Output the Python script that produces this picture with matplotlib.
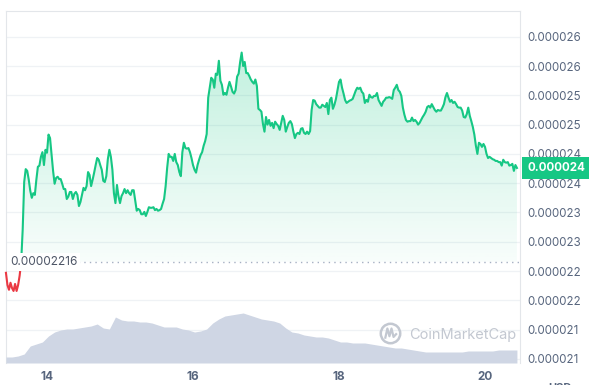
import numpy as np
import matplotlib
matplotlib.use('Agg')
import matplotlib.pyplot as plt
import matplotlib.transforms as mtransforms
from matplotlib.patches import Rectangle
from matplotlib.colors import to_rgb

plt.rcParams['font.family'] = ['Inter', 'DejaVu Sans']

# price every 30 minutes, in units of 1e-8 USD, starting 13th 10:30
start_day = 13 + 10.5 / 24
price_e8 = [
    2197, 2176, 2168, 2180, 2171, 2166, 2178, 2166, 2176, 2192,
    2215, 2270, 2352, 2374, 2371, 2356, 2337, 2325, 2333, 2330,
    2356, 2378, 2380, 2395, 2403, 2381, 2407, 2402, 2433, 2427,
    2398, 2371, 2349, 2359, 2361, 2357, 2357, 2349, 2340, 2340,
    2323, 2327, 2335, 2335, 2323, 2332, 2335, 2330, 2311, 2318,
    2330, 2342, 2338, 2345, 2369, 2364, 2345, 2356, 2368, 2381,
    2393, 2390, 2381, 2373, 2354, 2352, 2362, 2391, 2407, 2395,
    2373, 2333, 2316, 2347, 2328, 2316, 2328, 2333, 2340, 2333,
    2338, 2333, 2330, 2338, 2338, 2320, 2303, 2306, 2304, 2297,
    2297, 2301, 2294, 2301, 2309, 2308, 2308, 2309, 2304, 2306,
    2303, 2304, 2306, 2315, 2323, 2345, 2376, 2400, 2395, 2395,
    2388, 2400, 2386, 2381, 2369, 2362, 2403, 2419, 2410, 2409,
    2410, 2403, 2393, 2381, 2373, 2368, 2381, 2390, 2398, 2403,
    2414, 2422, 2434, 2496, 2513, 2530, 2527, 2513, 2537, 2535,
    2559, 2525, 2518, 2501, 2504, 2501, 2513, 2523, 2515, 2506,
    2503, 2509, 2532, 2537, 2557, 2573, 2550, 2557, 2538, 2538,
    2533, 2527, 2523, 2520, 2527, 2516, 2477, 2475, 2472, 2451,
    2438, 2463, 2450, 2458, 2448, 2453, 2444, 2455, 2451, 2448,
    2441, 2453, 2465, 2458, 2438, 2446, 2453, 2456, 2451, 2438,
    2427, 2434, 2436, 2434, 2443, 2444, 2436, 2434, 2438, 2434,
    2439, 2475, 2492, 2491, 2485, 2482, 2479, 2479, 2484, 2482,
    2480, 2487, 2468, 2492, 2496, 2477, 2484, 2494, 2509, 2523,
    2527, 2513, 2503, 2492, 2487, 2489, 2491, 2492, 2494, 2501,
    2508, 2513, 2511, 2513, 2506, 2503, 2487, 2492, 2489, 2501,
    2497, 2496, 2499, 2499, 2504, 2492, 2487, 2482, 2489, 2492,
    2496, 2496, 2497, 2496, 2494, 2509, 2513, 2518, 2509, 2506,
    2499, 2479, 2467, 2458, 2455, 2456, 2456, 2462, 2456, 2458,
    2455, 2450, 2453, 2458, 2463, 2467, 2472, 2480, 2482, 2479,
    2485, 2480, 2475, 2472, 2475, 2474, 2474, 2479, 2485, 2497,
    2504, 2496, 2489, 2492, 2487, 2489, 2485, 2480, 2479, 2479,
    2474, 2463, 2462, 2468, 2479, 2465, 2456, 2446, 2433, 2414,
    2400, 2419, 2417, 2412, 2417, 2412, 2400, 2393, 2395, 2393,
    2391, 2390, 2388, 2388, 2386, 2386, 2380, 2390, 2386, 2385,
    2386, 2380, 2381, 2383, 2371, 2381, 2376,
]

# volume every 2 hours (relative units)
volume = [
    6, 6, 7, 9, 17, 19, 21, 27, 31, 33,
    34, 34, 35, 36, 37, 39, 35, 34, 46, 43,
    42, 42, 41, 41, 40, 38, 36, 36, 36, 34,
    33, 31, 32, 34, 40, 44, 47, 48, 49, 50,
    48, 46, 44, 43, 42, 40, 35, 31, 30, 28,
    27, 26, 26, 25, 23, 21, 21, 20, 20, 20,
    19, 18, 17, 16, 15, 15, 14, 13, 12, 11,
    11, 11, 11, 11, 11, 11, 12, 12, 12, 12,
    12, 13, 13, 13, 13,
]

ref_price = 0.00002216
y_ticks = [0.0000205 + 0.0000005 * i for i in range(12)]
y_labels = ['0.000021', '0.000021', '0.000022', '0.000022', '0.000023', '0.000023',
            '0.000024', '0.000024', '0.000025', '0.000025', '0.000026', '0.000026']
x_ticks = [14, 16, 18, 20]
x_labels = ['14', '16', '18', '20']

green = '#16c784'
red = '#ea3943'
text_gray = '#58667e'

prices = np.array(price_e8) * 1e-8
t = start_day + np.arange(len(prices)) / 48
t_vol = start_day + np.arange(len(volume)) / 12

fig = plt.figure(figsize=(5.93, 3.85), dpi=100)
ax = fig.add_axes([6 / 593, 22 / 385, 514 / 593, 352 / 385])
ax_vol = ax.twinx()

ax.set_xlim(13.4383, 20.4795)
ax.set_ylim(0.00002043, 0.00002644)

# grid + frame
for yt in y_ticks:
    ax.axhline(yt, color='#eff2f5', lw=0.9, zorder=0)
for side in ['left', 'top', 'right']:
    ax.spines[side].set_color('#e3e6ea')
    ax.spines[side].set_linewidth(0.8)
ax.spines['bottom'].set_visible(False)

# gradient fill between line and reference
poly = ax.fill_between(t, prices, ref_price, where=prices >= ref_price,
                       interpolate=True, color='none', lw=0)
grad = np.zeros((256, 1, 4))
grad[:, 0, :3] = to_rgb(green)
grad[:, 0, 3] = np.linspace(0.26, 0.03, 256)
img = ax.imshow(grad, extent=[t[0], t[-1], ref_price, prices.max()],
                aspect='auto', origin='upper', zorder=1)
clip = poly.get_paths()[0]
img.set_clip_path(clip, ax.transData)

# line split at reference price
big = 1
line_g, = ax.plot(t, prices, color=green, lw=1.5, zorder=3, solid_joinstyle='round')
line_r, = ax.plot(t, prices, color=red, lw=1.5, zorder=3, solid_joinstyle='round')
line_g.set_clip_path(Rectangle((t[0] - 1, ref_price), 10, big, transform=ax.transData))
line_r.set_clip_path(Rectangle((t[0] - 1, ref_price - big), 10, big, transform=ax.transData))

# reference line
ax.axhline(ref_price, color='#a6b0c3', lw=1.0, ls=(0, (1, 3)), zorder=2)
ax.text(13.49, ref_price, '0.00002216', fontsize=8.5, color='#4d5566', va='center',
        ha='left', zorder=4, bbox=dict(boxstyle='square,pad=0.25', fc='white', ec='none'))

# axes ticks (price labels on the right)
ax.yaxis.tick_right()
ax.yaxis.set_label_position('right')
ax.set_yticks(y_ticks)
ax.set_yticklabels(y_labels)
ax.tick_params(axis='y', which='both', left=False, labelleft=False, right=False,
               labelright=True, length=0, pad=5, labelsize=8.3, labelcolor=text_gray)
ax.set_xticks(x_ticks)
ax.set_xticklabels(x_labels, fontweight='bold')
ax.tick_params(axis='x', length=0, pad=6, labelsize=8.5, labelcolor=text_gray)

# current price tag
trans = mtransforms.blended_transform_factory(ax.transAxes, ax.transData)
ax_vol.text(1.0 + 7 / 514, prices[-1], '0.000024', transform=trans, fontsize=8.3,
            color='white', fontweight='bold', va='center', ha='left', zorder=6, clip_on=False,
            bbox=dict(boxstyle='square,pad=0.4', fc=green, ec='none'))

# volume on the twin axis
ax_vol.set_ylim(0, 352)
ax_vol.set_yticks([])
for s in ax_vol.spines.values():
    s.set_visible(False)
ax_vol.fill_between(t_vol, volume, 0, color='#cfd6e4', lw=0)

# watermark
ax_vol.plot([0.748], [0.085], marker='o', ms=14, mfc='none', mec='#c3c8d1', mew=1.8,
            transform=ax_vol.transAxes)
wx = [0.738, 0.742, 0.746, 0.750, 0.754, 0.759]
wy = [0.072, 0.098, 0.076, 0.098, 0.074, 0.082]
ax_vol.plot(wx, wy, color='#c3c8d1', lw=1.6, transform=ax_vol.transAxes)
ax_vol.text(0.784, 0.08, 'CoinMarketCap', transform=ax_vol.transAxes, fontsize=10.5,
            color='#c3c8d1', va='center', ha='left')

fig.text(548 / 593, 2 / 385, 'USD', fontsize=8, color=text_gray, fontweight='bold',
         va='top', ha='left')

fig.savefig('out.png', dpi=100)
